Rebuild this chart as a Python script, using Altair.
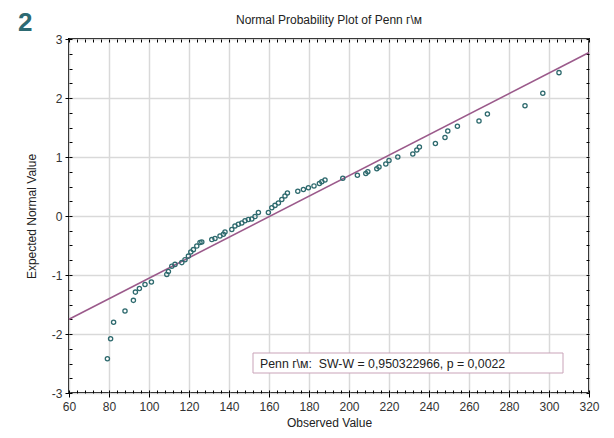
import altair as alt
import pandas as pd

obs = [79.2, 80.8, 82.3, 88.0, 92.2, 93.2, 95.2, 98.0, 101.2,
       108.9, 109.7, 111.4, 113.0, 116.4, 118.0, 119.7, 120.9, 122.2, 123.9,
       125.5, 126.4, 131.4, 133.0, 135.5, 137.2, 138.0, 141.4, 143.0, 144.7,
       146.4, 148.0, 149.7, 151.4, 153.0, 154.7, 159.7, 161.4, 163.0, 164.7,
       166.4, 168.0, 169.2, 174.4, 177.2, 179.7, 182.5, 185.2, 186.4, 188.0,
       196.9, 204.2, 208.4, 209.4, 213.9, 215.0, 218.4, 220.0, 224.4, 231.9,
       233.9, 235.2, 243.2, 248.0, 249.4, 254.2, 265.0, 269.2, 288.0, 296.9, 305.0]
expected = [-2.42, -2.08, -1.80, -1.61, -1.43, -1.29, -1.23, -1.16, -1.12,
            -0.99, -0.94, -0.85, -0.82, -0.79, -0.74, -0.68, -0.61, -0.57, -0.51,
            -0.45, -0.44, -0.40, -0.38, -0.34, -0.31, -0.27, -0.23, -0.17, -0.14,
            -0.12, -0.08, -0.06, -0.05, -0.01, 0.06, 0.06, 0.14, 0.18, 0.22,
            0.28, 0.34, 0.39, 0.42, 0.45, 0.48, 0.51, 0.55, 0.58, 0.61,
            0.64, 0.69, 0.72, 0.75, 0.80, 0.83, 0.88, 0.94, 1.00, 1.05,
            1.12, 1.17, 1.23, 1.33, 1.44, 1.52, 1.61, 1.73, 1.87, 2.08, 2.43]

# Reference line end points
line_x = [60, 320]
line_y = [-1.75, 2.77]

x_major = list(range(60, 321, 20))
y_major = [-3, -2, -1, 0, 1, 2, 3]
x_minor = list(range(60, 321, 4))
y_minor = [v / 4 for v in range(-12, 13)]

title_text = "Normal Probability Plot of Penn г\\м"
stats_text = "Penn г\\м:\u00a0 SW-W = 0,950322966, p = 0,0022"
badge_text = "2"

pts = pd.DataFrame({"x": obs, "y": expected})
ln = pd.DataFrame({"x": line_x, "y": line_y})
one = pd.DataFrame({"k": [0]})

xs = alt.Scale(domain=[60, 320], nice=False, zero=False)
ys = alt.Scale(domain=[-3, 3], nice=False, zero=False)

FONT = "Liberation Sans"
LBL = "'' + datum.value"

main_line = alt.Chart(ln).mark_line(color="#9b5a8b", strokeWidth=1.6).encode(
    x=alt.X("x:Q", scale=xs, axis=alt.Axis(
        orient="bottom", values=x_major, grid=True, gridColor="#d9d9d9", gridWidth=1.5,
        domain=False, tickSize=4, tickColor="#000", tickWidth=1,
        labelFontSize=12, labelColor="#333", labelPadding=4, labelFont=FONT,
        labelFlush=False, labelExpr=LBL, labelOverlap=False,
        title="Observed Value", titleFontSize=12, titleFontWeight="normal",
        titleColor="#222", titlePadding=5, titleFont=FONT)),
    y=alt.Y("y:Q", scale=ys, axis=alt.Axis(
        orient="left", values=y_major, grid=True, gridColor="#d9d9d9", gridWidth=1.5,
        domain=False, tickSize=4, tickColor="#000", tickWidth=1,
        labelFontSize=12, labelColor="#333", labelPadding=3, labelFont=FONT,
        labelFlush=False, labelExpr=LBL, labelOverlap=False,
        title="Expected Normal Value", titleFontSize=12, titleFontWeight="normal",
        titleColor="#222", titlePadding=13, titleFont=FONT)),
)

points = alt.Chart(pts).mark_point(shape="circle", filled=False, color="#2e6a6e",
                                   size=18, strokeWidth=1.3, opacity=1).encode(
    x=alt.X("x:Q", scale=xs, axis=alt.Axis(
        orient="top", values=x_minor, labels=False, grid=False, domain=False,
        tickSize=3, offset=-3, tickColor="#000", tickWidth=1, title=None)),
    y=alt.Y("y:Q", scale=ys, axis=alt.Axis(
        orient="right", values=y_minor, labels=False, grid=False, domain=False,
        tickSize=3, offset=-3, tickColor="#000", tickWidth=1, title=None)),
)

minor_bl = alt.Chart(pts).mark_point(opacity=0).encode(
    x=alt.X("x:Q", scale=xs, axis=alt.Axis(
        orient="bottom", values=x_minor, labels=False, grid=False, domain=False,
        tickSize=3, offset=-3, tickColor="#000", tickWidth=1, title=None)),
    y=alt.Y("y:Q", scale=ys, axis=alt.Axis(
        orient="left", values=y_minor, labels=False, grid=False, domain=False,
        tickSize=3, offset=-3, tickColor="#000", tickWidth=1, title=None)),
)

box = alt.Chart(one).mark_rect(fill="white", stroke="#c9a3b8", strokeWidth=1).encode(
    x=alt.value(184), x2=alt.value(494), y=alt.value(314), y2=alt.value(334))

stats = alt.Chart(one).mark_text(align="left", baseline="middle", fontSize=12.3,
                                 font=FONT, color="#222", text=stats_text).encode(
    x=alt.value(191), y=alt.value(324.5))

title = alt.Chart(one).mark_text(align="center", baseline="alphabetic", fontSize=12,
                                 font=FONT, color="#222", text=title_text).encode(
    x=alt.value(260), y=alt.value(-15))

badge = alt.Chart(one).mark_text(align="left", baseline="alphabetic", fontSize=26,
                                 fontWeight="bold", font=FONT, color="#2d6a72",
                                 text=badge_text).encode(
    x=alt.value(-51), y=alt.value(-8))

chart = alt.layer(main_line, points, minor_bl, box, stats, title, badge).resolve_axis(
    x="independent", y="independent"
).properties(
    width=520, height=354,
    autosize=alt.AutoSizeParams(type="none"),
    padding={"left": 61, "top": 31, "right": 17, "bottom": 37},
    background="white",
).configure_view(stroke="#000", strokeWidth=2)

chart.save("out.html", embed_options={"renderer": "svg", "actions": False})
